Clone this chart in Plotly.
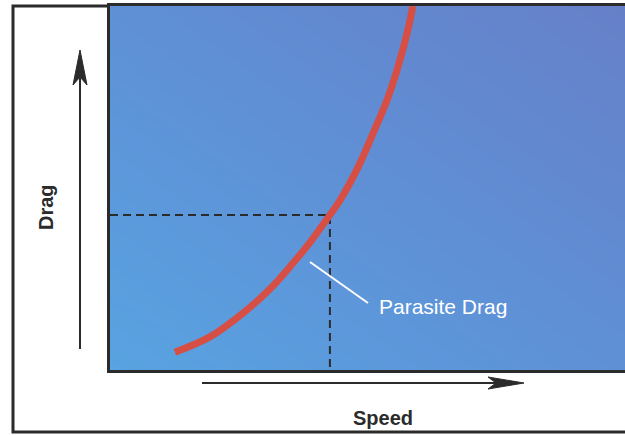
import plotly.graph_objects as go

# ---- data ----
speed = [12.6, 19.4, 25.8, 31.1, 35.5, 38.8, 42.7, 44.7, 48.2, 51.1, 53.8, 55.9, 57.7, 58.8]
drag = [4.9, 9.1, 15.6, 22.3, 29.3, 35.0, 42.6, 46.7, 55.8, 65.1, 74.2, 83.2, 92.6, 100.0]
ref_speed = 42.7
ref_drag = 42.6
x_label = "Speed"
y_label = "Drag"
curve_label = "Parasite Drag"
axis_range = [0, 100]

# ---- layout geometry (pixels) ----
W, H = 625, 435
ML, MR, MT, MB = 110, 0, 6, 65
PW = W - ML - MR
PH = H - MT - MB


def px(x):
    return (x - ML) / PW


def py(y):
    return (H - MB - y) / PH


DARK = "#2b2b2b"
FONT = "Liberation Sans, Arial, Helvetica, sans-serif"

fig = go.Figure()

# gradient background
fig.add_trace(go.Heatmap(
    x=axis_range, y=axis_range, z=[[0, 0.5], [0.5, 1]],
    zsmooth="best", showscale=False, hoverinfo="skip",
    colorscale=[[0, "rgb(88,163,225)"], [0.5, "rgb(95,144,214)"], [1, "rgb(102,128,200)"]],
))

# dashed reference lines
fig.add_trace(go.Scatter(
    x=[axis_range[0], ref_speed, ref_speed], y=[ref_drag, ref_drag, axis_range[0]],
    mode="lines", line=dict(color=DARK, width=2, dash="8px,5px"),
    hoverinfo="skip", showlegend=False,
))

# parasite drag curve
fig.add_trace(go.Scatter(
    x=speed, y=drag, mode="lines",
    line=dict(color="rgb(214,78,68)", width=7, shape="spline", smoothing=1.0),
    hoverinfo="skip", showlegend=False,
))

shapes = []
# outer frame (left, bottom, top-left)
shapes.append(dict(type="path", xref="paper", yref="paper",
                   path=f"M{px(110)},{py(6)} L{px(13)},{py(6)} L{px(13)},{py(432)} L{px(626)},{py(432)}",
                   line=dict(color=DARK, width=3)))
# vertical arrow
shapes.append(dict(type="line", xref="paper", yref="paper",
                   x0=px(80), y0=py(349), x1=px(80), y1=py(78),
                   line=dict(color=DARK, width=2)))
shapes.append(dict(type="path", xref="paper", yref="paper",
                   path=f"M{px(80)},{py(50)} L{px(73)},{py(85)} L{px(80)},{py(77)} L{px(87)},{py(85)} Z",
                   fillcolor=DARK, line=dict(color=DARK, width=1)))
# horizontal arrow
shapes.append(dict(type="line", xref="paper", yref="paper",
                   x0=px(202), y0=py(383), x1=px(497), y1=py(383),
                   line=dict(color=DARK, width=2)))
shapes.append(dict(type="path", xref="paper", yref="paper",
                   path=f"M{px(524)},{py(383)} L{px(488)},{py(377)} L{px(496)},{py(383)} L{px(488)},{py(389)} Z",
                   fillcolor=DARK, line=dict(color=DARK, width=1)))
# leader line to label
shapes.append(dict(type="line", xref="paper", yref="paper",
                   x0=px(310), y0=py(262), x1=px(368), y1=py(303),
                   line=dict(color="white", width=2)))

annotations = [
    dict(text=f"<b>{x_label}</b>", xref="paper", yref="paper", x=px(383), y=py(418),
         showarrow=False, font=dict(family=FONT, size=20, color=DARK),
         xanchor="center", yanchor="middle"),
    dict(text=f"<b>{y_label}</b>", xref="paper", yref="paper", x=px(46), y=py(207),
         showarrow=False, textangle=-90, font=dict(family=FONT, size=20, color=DARK),
         xanchor="center", yanchor="middle"),
    dict(text=curve_label, xref="paper", yref="paper", x=px(377), y=py(306),
         showarrow=False, font=dict(family=FONT, size=21, color="white"),
         xanchor="left", yanchor="middle"),
]

fig.update_layout(
    width=W, height=H,
    margin=dict(l=ML, r=MR, t=MT, b=MB, pad=0),
    paper_bgcolor="white", plot_bgcolor="rgb(95,144,214)",
    showlegend=False,
    shapes=shapes, annotations=annotations,
    xaxis=dict(range=axis_range, showgrid=False, zeroline=False, showticklabels=False,
               ticks="", showline=True, linecolor=DARK, linewidth=3, mirror=True, fixedrange=True),
    yaxis=dict(range=axis_range, showgrid=False, zeroline=False, showticklabels=False,
               ticks="", showline=True, linecolor=DARK, linewidth=3, mirror=False, fixedrange=True),
)

fig.write_html("out.html", config={"displayModeBar": False},
               post_script="document.body.style.margin='0';document.body.style.overflow='hidden';")
